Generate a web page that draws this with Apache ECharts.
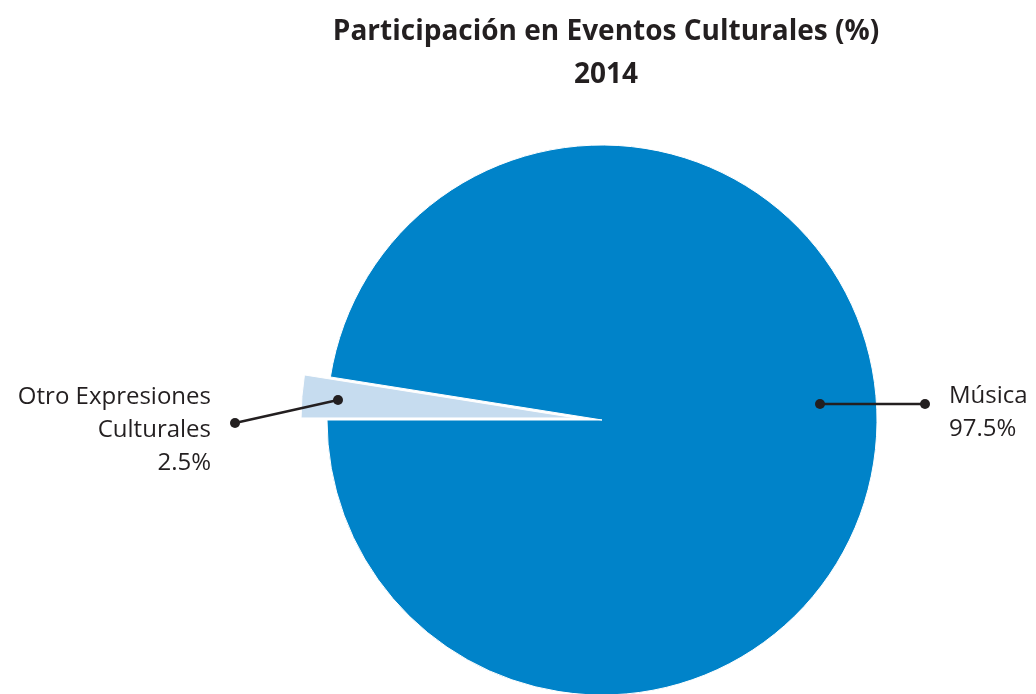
<!DOCTYPE html>
<html>
<head>
<meta charset="utf-8">
<script src="https://cdn.jsdelivr.net/npm/echarts@6/dist/echarts.min.js"></script>
<style>
  html, body { margin: 0; padding: 0; background: #ffffff; }
  #chart { width: 1036px; height: 694px; }
</style>
</head>
<body>
<div id="chart"></div>
<script>
// Chart data
const categories = ['Otro Expresiones\nCulturales', 'Música'];
const values = [2.5, 97.5];
const titleText = 'Participación en Eventos Culturales (%)\n2014';

// Layout constants
const CX = 602, CY = 420, R = 275;
const TEXT_COLOR = '#231f20';
const FONT = '"Open Sans", sans-serif';
const SLICE_COLORS = ['#c6dcef', '#0083c9'];

// Leader lines: [inner anchor, outer end], relative to the pie centre
const leaders = [
  [[CX - 264, CY - 20], [CX - 367, CY + 3]],   // Otro Expresiones Culturales
  [[CX + 218, CY - 16], [CX + 323, CY - 16]]   // Música
];
// Label blocks: anchor point and alignment
const labelPos = [
  { x: CX - 391, y: CY + 10, align: 'right' },
  { x: CX + 347, y: CY - 7, align: 'left' }
];

const chart = echarts.init(document.getElementById('chart'));

// Leader lines with a dot on each end, plus the slice labels
const annotations = [];
leaders.forEach((pts, i) => {
  annotations.push({
    type: 'polyline',
    shape: { points: pts },
    style: { stroke: TEXT_COLOR, lineWidth: 2.5, fill: null },
    z: 100
  });
  pts.forEach(p => annotations.push({
    type: 'circle',
    shape: { cx: p[0], cy: p[1], r: 5 },
    style: { fill: TEXT_COLOR },
    z: 101
  }));
  annotations.push({
    type: 'text',
    x: labelPos[i].x,
    y: labelPos[i].y,
    z: 100,
    style: {
      text: categories[i] + '\n' + values[i] + '%',
      align: labelPos[i].align,
      verticalAlign: 'middle',
      font: '24px ' + FONT,
      lineHeight: 33,
      fill: TEXT_COLOR
    }
  });
});

chart.setOption({
  backgroundColor: '#ffffff',
  animation: false,
  title: {
    text: titleText,
    left: 601,
    top: 6,
    textAlign: 'center',
    textStyle: {
      fontFamily: FONT,
      fontWeight: 'bold',
      fontSize: 28,
      lineHeight: 43,
      color: TEXT_COLOR
    }
  },
  graphic: annotations,
  series: [{
    type: 'pie',
    center: [CX, CY],
    radius: R,
    startAngle: 180,
    clockwise: true,
    selectedMode: 'single',
    selectedOffset: 26,
    silent: true,
    itemStyle: { borderColor: '#ffffff', borderWidth: 1 },
    label: { show: false },
    labelLine: { show: false },
    data: categories.map((name, i) => ({
      name: name,
      value: values[i],
      selected: i === 0,
      itemStyle: { color: SLICE_COLORS[i] }
    }))
  }]
});
</script>
</body>
</html>
